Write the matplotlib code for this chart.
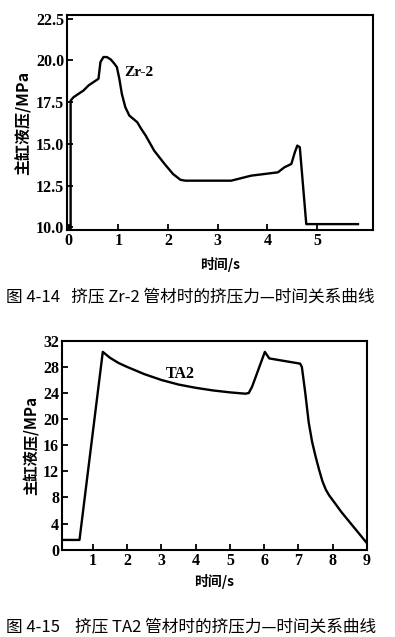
import matplotlib.pyplot as plt

plt.rcParams['font.family'] = ['Liberation Serif', 'Noto Sans CJK SC']

# 图 4-14 Zr-2
zr_t = [0.04, 0.04, 0.1, 0.2, 0.3, 0.4, 0.5, 0.6, 0.64, 0.7, 0.77, 0.85, 0.92, 0.97, 1.02, 1.07,
        1.14, 1.22, 1.3, 1.38, 1.46, 1.55, 1.72, 1.93, 2.1, 2.25, 2.35, 3.27, 3.67, 4.21, 4.34,
        4.48, 4.55, 4.6, 4.65, 4.78, 5.82]
zr_p = [9.85, 17.6, 17.8, 18.0, 18.2, 18.5, 18.7, 18.9, 19.9, 20.2, 20.2, 20.05, 19.8, 19.6, 18.9, 18.0,
        17.2, 16.7, 16.5, 16.3, 15.9, 15.5, 14.6, 13.8, 13.2, 12.85, 12.8, 12.8, 13.1, 13.3, 13.6,
        13.8, 14.5, 14.9, 14.8, 10.2, 10.2]
zr_xticks = [0, 1, 2, 3, 4, 5]
zr_yticks = [10.0, 12.5, 15.0, 17.5, 20.0, 22.5]

# 图 4-15 TA2
ta_t = [0.07, 0.61, 1.29, 1.5, 1.75, 2.0, 2.5, 3.0, 3.5, 4.0, 4.5, 5.0, 5.45, 5.55, 5.65, 6.02,
        6.15, 7.05, 7.1, 7.2, 7.3, 7.4, 7.5, 7.6, 7.7, 7.8, 7.9, 8.0, 8.25, 8.5, 8.75, 9.0]
ta_p = [1.5, 1.5, 30.3, 29.4, 28.6, 28.0, 26.9, 26.0, 25.3, 24.8, 24.4, 24.1, 23.9, 24.0, 25.0, 30.3,
        29.3, 28.5, 28.0, 24.0, 19.5, 16.5, 14.3, 12.3, 10.5, 9.2, 8.3, 7.6, 5.8, 4.2, 2.6, 1.0]
ta_xticks = [1, 2, 3, 4, 5, 6, 7, 8, 9]
ta_yticks = [0, 4, 8, 12, 16, 20, 24, 28, 32]

cjk = ['Noto Sans CJK SC', 'DejaVu Sans']

fig = plt.figure(figsize=(3.95, 6.37), dpi=100)

ax1 = fig.add_axes([0.170, 0.639, 0.774, 0.337])
ax1.plot(zr_t, zr_p, color='black', lw=1.7)
ax1.set_xlim(-0.03, 6.12)
ax1.set_ylim(9.85, 22.7)
ax1.set_xticks(zr_xticks)
ax1.set_yticks(zr_yticks)
ax1.set_yticklabels(['%.1f' % v for v in zr_yticks])
ax1.text(1.42, 19.3, 'Zr-2', fontsize=11, fontweight='bold', ha='center', va='center')
ax1.set_xlabel('时间/s', family=cjk, fontsize=10, fontweight='bold', labelpad=6)
ax1.set_ylabel('主缸液压/MPa', family=cjk, fontsize=11.5, fontweight='bold', labelpad=3)

ax2 = fig.add_axes([0.157, 0.137, 0.772, 0.328])
ax2.plot(ta_t, ta_p, color='black', lw=1.7)
ax2.set_xlim(0.1, 9.0)
ax2.set_ylim(0, 32)
ax2.set_xticks(ta_xticks)
ax2.set_yticks(ta_yticks)
ax2.text(3.54, 26.9, 'TA2', fontsize=11.5, fontweight='bold', ha='center', va='center')
ax2.set_xlabel('时间/s', family=cjk, fontsize=10, fontweight='bold', labelpad=4)
ax2.set_ylabel('主缸液压/MPa', family=cjk, fontsize=11, fontweight='bold', labelpad=3)

for ax in (ax1, ax2):
    ax.tick_params(direction='in', length=4, width=1.3, labelsize=11.5, pad=2)
    for lab in ax.get_xticklabels() + ax.get_yticklabels():
        lab.set_fontweight('bold')
    for s in ax.spines.values():
        s.set_linewidth(1.5)

fig.text(0.015, 0.532, '图 4-14   挤压 Zr-2 管材时的挤压力—时间关系曲线', family=cjk, fontsize=12, va='center')
fig.text(0.015, 0.014, '图 4-15    挤压 TA2 管材时的挤压力—时间关系曲线', family=cjk, fontsize=12, va='center')

fig.savefig('out.png', dpi=100)
